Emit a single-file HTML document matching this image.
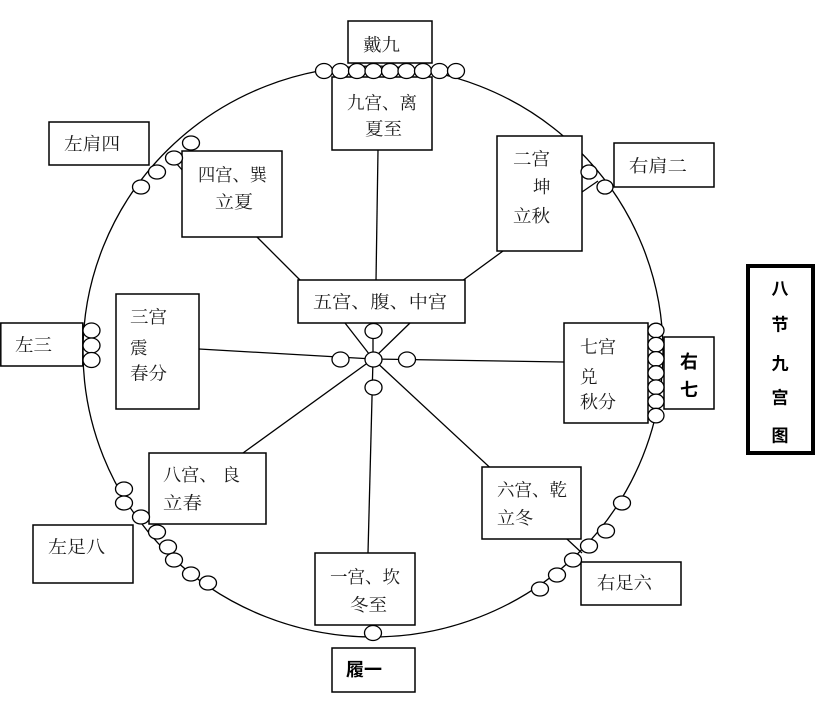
<!DOCTYPE html>
<html><head><meta charset="utf-8">
<style>
html,body{margin:0;padding:0;background:#fff;}
svg{display:block;}
.t{font-family:"Liberation Serif","Noto Serif CJK SC",serif;font-size:17.5px;fill:#1a1a1a;dominant-baseline:central;}
.b{font-family:"Liberation Sans","Noto Sans CJK SC",sans-serif;font-size:18px;font-weight:bold;fill:#000;dominant-baseline:central;}
</style></head>
<body>
<svg width="828" height="717" viewBox="0 0 828 717" xmlns="http://www.w3.org/2000/svg">
<g stroke="#000" stroke-width="1.3" fill="none">
  <!-- spokes -->
  <line x1="378" y1="150" x2="376" y2="281"/>
  <line x1="257" y1="237" x2="301" y2="281"/>
  <line x1="503" y1="251" x2="462" y2="281"/>
  <line x1="345" y1="323" x2="373" y2="359"/>
  <line x1="410" y1="323" x2="373" y2="359"/>
  <line x1="373" y1="331" x2="373" y2="359"/>
  <line x1="199" y1="349" x2="373" y2="359"/>
  <line x1="373" y1="359" x2="564" y2="362"/>
  <line x1="373" y1="359" x2="368" y2="553"/>
  <line x1="373" y1="359" x2="243" y2="453"/>
  <line x1="373" y1="359" x2="582" y2="553"/>
  <line x1="176" y1="163" x2="183" y2="171"/>
  <line x1="582" y1="192" x2="598" y2="181"/>
  <!-- big circle -->
  <ellipse cx="373" cy="351.5" rx="290" ry="285.5"/>
</g>
<!-- boxes -->
<g stroke="#000" stroke-width="1.5" fill="#fff">
  <rect x="348" y="21" width="84" height="42"/>
  <rect x="332" y="77" width="100" height="73"/>
  <rect x="49" y="122" width="100" height="43"/>
  <rect x="182" y="151" width="100" height="86"/>
  <rect x="497" y="136" width="85" height="115"/>
  <rect x="614" y="143" width="100" height="44"/>
  <rect x="298" y="280" width="167" height="43"/>
  <rect x="116" y="294" width="83" height="115"/>
  <rect x="0.8" y="323" width="82" height="43"/>
  <rect x="564" y="323" width="84" height="100"/>
  <rect x="664" y="337" width="50" height="72"/>
  <rect x="149" y="453" width="117" height="71"/>
  <rect x="33" y="525" width="100" height="58"/>
  <rect x="482" y="467" width="99" height="72"/>
  <rect x="581" y="562" width="100" height="43"/>
  <rect x="315" y="553" width="100" height="72"/>
  <rect x="332" y="648" width="83" height="44"/>
</g>
<rect x="748" y="266" width="65" height="187" stroke="#000" stroke-width="4" fill="#fff"/>
<!-- ovals -->
<g stroke="#000" stroke-width="1.3" fill="#fff">
  <!-- top -->
  <ellipse cx="324" cy="71" rx="8.5" ry="7.5"/>
  <ellipse cx="340.5" cy="71" rx="8.5" ry="7.5"/>
  <ellipse cx="357" cy="71" rx="8.5" ry="7.5"/>
  <ellipse cx="373.5" cy="71" rx="8.5" ry="7.5"/>
  <ellipse cx="390" cy="71" rx="8.5" ry="7.5"/>
  <ellipse cx="406.5" cy="71" rx="8.5" ry="7.5"/>
  <ellipse cx="423" cy="71" rx="8.5" ry="7.5"/>
  <ellipse cx="439.5" cy="71" rx="8.5" ry="7.5"/>
  <ellipse cx="456" cy="71" rx="8.5" ry="7.5"/>
  <!-- left shoulder -->
  <ellipse cx="141" cy="187" rx="8.5" ry="7"/>
  <ellipse cx="157" cy="172" rx="8.5" ry="7"/>
  <ellipse cx="174" cy="158" rx="8.5" ry="7"/>
  <ellipse cx="191" cy="143" rx="8.5" ry="7"/>
  <!-- right shoulder -->
  <ellipse cx="589" cy="172" rx="8" ry="7"/>
  <ellipse cx="605" cy="187" rx="8" ry="7"/>
  <!-- left three -->
  <ellipse cx="91.5" cy="330.5" rx="8.5" ry="7.5"/>
  <ellipse cx="91.5" cy="345.5" rx="8.5" ry="7.5"/>
  <ellipse cx="91.5" cy="360" rx="8.5" ry="7.5"/>
  <!-- right seven -->
  <ellipse cx="656" cy="330.5" rx="8" ry="7.3"/>
  <ellipse cx="656" cy="344.7" rx="8" ry="7.3"/>
  <ellipse cx="656" cy="358.9" rx="8" ry="7.3"/>
  <ellipse cx="656" cy="373" rx="8" ry="7.3"/>
  <ellipse cx="656" cy="387.2" rx="8" ry="7.3"/>
  <ellipse cx="656" cy="401.4" rx="8" ry="7.3"/>
  <ellipse cx="656" cy="415.6" rx="8" ry="7.3"/>
  <!-- center -->
  <ellipse cx="373.5" cy="331" rx="8.5" ry="7.5"/>
  <ellipse cx="340.5" cy="359.5" rx="8.5" ry="7.5"/>
  <ellipse cx="407" cy="359.5" rx="8.5" ry="7.5"/>
  <ellipse cx="373.5" cy="359.5" rx="8.5" ry="7.5"/>
  <ellipse cx="373.5" cy="387.5" rx="8.5" ry="7.5"/>
  <!-- bottom -->
  <ellipse cx="373" cy="633" rx="8.5" ry="7.5"/>
  <!-- left foot -->
  <ellipse cx="124" cy="489" rx="8.5" ry="7"/>
  <ellipse cx="124" cy="503" rx="8.5" ry="7"/>
  <ellipse cx="141" cy="517" rx="8.5" ry="7"/>
  <ellipse cx="157" cy="532" rx="8.5" ry="7"/>
  <ellipse cx="168" cy="547" rx="8.5" ry="7"/>
  <ellipse cx="174" cy="560" rx="8.5" ry="7"/>
  <ellipse cx="191" cy="574" rx="8.5" ry="7"/>
  <ellipse cx="208" cy="583" rx="8.5" ry="7"/>
  <!-- right foot -->
  <ellipse cx="622" cy="503" rx="8.5" ry="7"/>
  <ellipse cx="606" cy="531" rx="8.5" ry="7"/>
  <ellipse cx="589" cy="546" rx="8.5" ry="7"/>
  <ellipse cx="573" cy="560" rx="8.5" ry="7"/>
  <ellipse cx="557" cy="575" rx="8.5" ry="7"/>
  <ellipse cx="540" cy="589" rx="8.5" ry="7"/>
</g>
<!-- text -->
<g class="t">
  <text x="363" y="45" textLength="37" lengthAdjust="spacingAndGlyphs">戴九</text>
  <text x="347" y="103" textLength="70" lengthAdjust="spacingAndGlyphs">九宫、离</text>
  <text x="365" y="129" textLength="37" lengthAdjust="spacingAndGlyphs">夏至</text>
  <text x="64" y="144" textLength="56" lengthAdjust="spacingAndGlyphs">左肩四</text>
  <text x="198" y="175" textLength="69" lengthAdjust="spacingAndGlyphs">四宫、巽</text>
  <text x="215" y="202" textLength="38" lengthAdjust="spacingAndGlyphs">立夏</text>
  <text x="513" y="159" textLength="37" lengthAdjust="spacingAndGlyphs">二宫</text>
  <text x="533" y="187">坤</text>
  <text x="513" y="216" textLength="37" lengthAdjust="spacingAndGlyphs">立秋</text>
  <text x="629" y="166" textLength="58" lengthAdjust="spacingAndGlyphs">右肩二</text>
  <text x="313" y="302" textLength="134" lengthAdjust="spacingAndGlyphs">五宫、腹、中宫</text>
  <text x="130" y="317" textLength="37" lengthAdjust="spacingAndGlyphs">三宫</text>
  <text x="130" y="348">震</text>
  <text x="130" y="373.5" textLength="37" lengthAdjust="spacingAndGlyphs">春分</text>
  <text x="15" y="345" textLength="37" lengthAdjust="spacingAndGlyphs">左三</text>
  <text x="580" y="347" textLength="36" lengthAdjust="spacingAndGlyphs">七宫</text>
  <text x="580" y="377">兑</text>
  <text x="580" y="402" textLength="36" lengthAdjust="spacingAndGlyphs">秋分</text>
  <text x="163" y="475" textLength="77" lengthAdjust="spacingAndGlyphs">八宫、 良</text>
  <text x="163" y="503" textLength="39" lengthAdjust="spacingAndGlyphs">立春</text>
  <text x="48" y="547" textLength="57" lengthAdjust="spacingAndGlyphs">左足八</text>
  <text x="497" y="490" textLength="70" lengthAdjust="spacingAndGlyphs">六宫、乾</text>
  <text x="497" y="518" textLength="36" lengthAdjust="spacingAndGlyphs">立冬</text>
  <text x="597" y="583" textLength="55" lengthAdjust="spacingAndGlyphs">右足六</text>
  <text x="330" y="577" textLength="70" lengthAdjust="spacingAndGlyphs">一宫、坎</text>
  <text x="350" y="605" textLength="37" lengthAdjust="spacingAndGlyphs">冬至</text>
</g>
<g class="b" text-anchor="middle">
  <text x="689" y="362">右</text>
  <text x="689" y="390">七</text>
  <text x="364" y="670">履一</text>
  <text x="780" y="289" style="font-size:17px">八</text>
  <text x="780" y="325" style="font-size:17px">节</text>
  <text x="780" y="364" style="font-size:17px">九</text>
  <text x="780" y="398" style="font-size:17px">宫</text>
  <text x="780" y="436" style="font-size:17px">图</text>
</g>
</svg>
</body></html>
